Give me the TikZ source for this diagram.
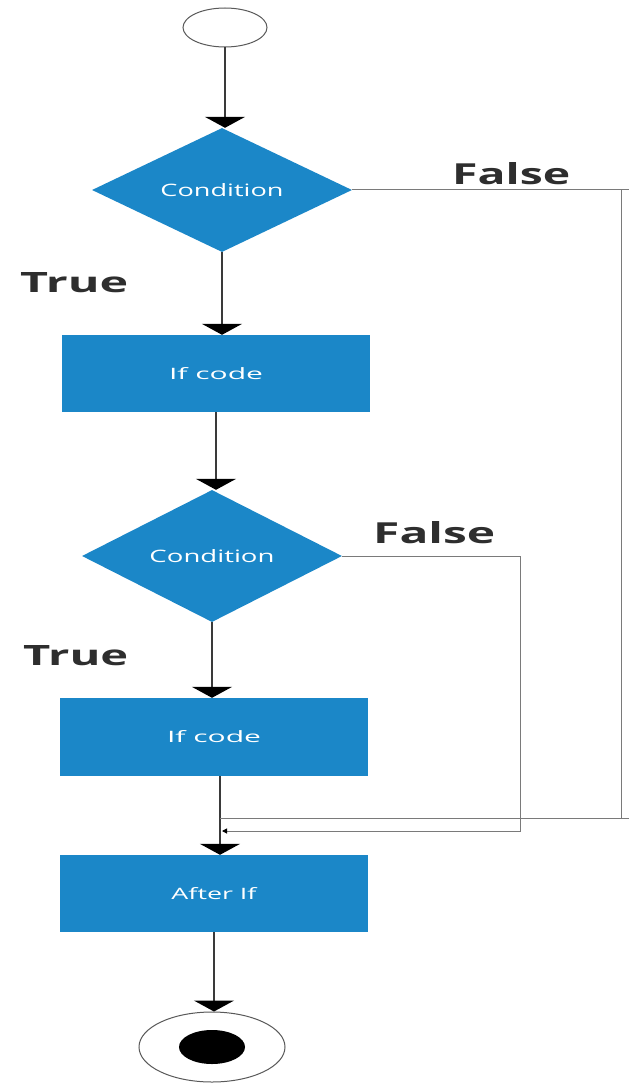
\documentclass[tikz,border=0pt]{standalone}
\usepackage{graphicx}
\usepackage{fontspec}
\setmainfont{Open Sans}
\usetikzlibrary{shapes.geometric,arrows.meta}

\definecolor{flowblue}{HTML}{1B87C8}
\definecolor{wirecol}{HTML}{3A3A3A}
\definecolor{loopcol}{HTML}{7A7A7A}
\definecolor{labelgray}{HTML}{2E2E2E}

% set a word to an exact width and height (in pt)
\newcommand{\fitword}[3]{\resizebox{#1pt}{#2pt}{#3}}

\begin{document}
\begin{tikzpicture}[x=1pt,y=-1pt,
  flow/.style={draw=none, fill=flowblue, text=white, inner sep=0pt},
  stepbox/.style={flow, rectangle, minimum width=308pt, minimum height=77pt},
  decision/.style={flow, diamond, aspect=2, minimum width=260pt, minimum height=124pt},
  wire/.style={draw=wirecol, line width=2.2pt,
    -{Triangle[width=40pt,length=11pt,color=black]}},
  loopline/.style={draw=loopcol, line width=1pt},
  lbl/.style={anchor=base west, inner sep=0pt, text=labelgray, font=\bfseries},
  terminal/.style={ellipse, draw=gray!70!black, line width=1pt, inner sep=0pt}]

\useasboundingbox (0,0) rectangle (629,1083);
\fill[white] (0,0) rectangle (629,1083);

% nodes of the flow
\node[terminal, minimum width=84pt, minimum height=39pt] (start) at (225,27.5) {};
\node[decision] (cond1) at (222,190) {\fitword{123}{13}{Condition}};
\node[stepbox] (code1) at (216,373.5) {\fitword{94}{12}{If code}};
\node[decision, minimum height=132pt] (cond2) at (212,556) {\fitword{125}{13}{Condition}};
\node[stepbox, minimum height=78pt] (code2) at (214,737) {\fitword{94}{12}{If code}};
\node[stepbox] (after) at (214,893.5) {\fitword{85}{12}{After If}};
\node[terminal, minimum width=146pt, minimum height=70pt] (stop) at (212,1047) {};
\node[ellipse, fill=black, minimum width=66pt, minimum height=34pt, inner sep=0pt] (stopdot) at (stop.center) {};

% main vertical connectors
\draw[wire] (start.south) -- (start.south |- cond1.north);
\draw[wire] (cond1.south) -- (cond1.south |- code1.north);
\draw[wire] (code1.south) -- (code1.south |- cond2.north);
\draw[wire] (cond2.south) -- (cond2.south |- code2.north);
\draw[wire] ([xshift=6pt]code2.south) -- ([xshift=6pt]code2.south |- after.north);
\draw[wire] (after.south) -- (after.south |- stop.north);

% false branches joining above "After If"
\coordinate (merge1) at (220,818);
\coordinate (merge2) at (222,831);
\draw[loopline] (cond1.east) -- (629,190);
\draw[loopline] (621,190) -- (621,818);
\draw[loopline] (629,818) -- (merge1);
\draw[loopline, -{Triangle[width=5pt,length=5pt,color=black]}]
  (cond2.east) -| (520,831) -- (merge2);

% branch labels
\node[lbl] (false1) at (452,185) {\fitword{118}{22}{False}};
\node[lbl] (false2) at (373,543) {\fitword{122}{22}{False}};
\node[lbl] (true1) at (20,292) {\fitword{108}{20}{True}};
\node[lbl] (true2) at (23,665) {\fitword{105}{20}{True}};
\end{tikzpicture}
\end{document}
